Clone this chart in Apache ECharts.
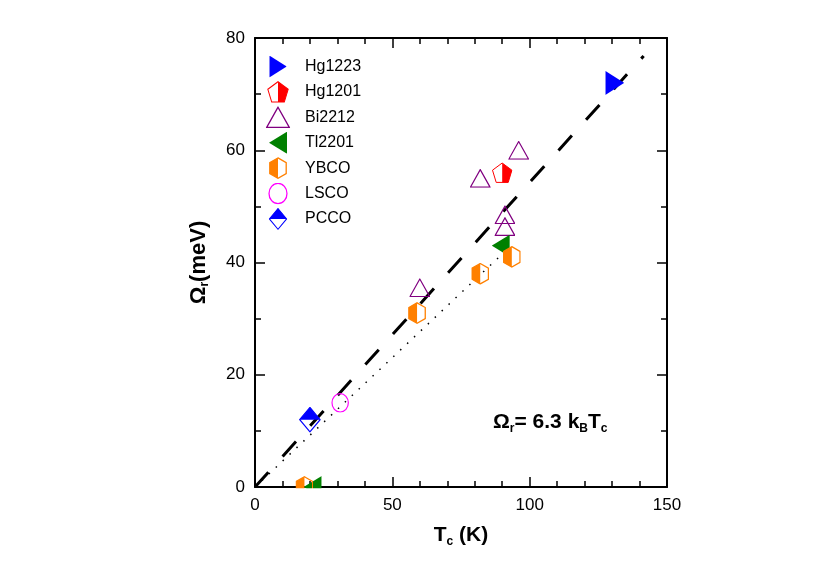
<!DOCTYPE html>
<html>
<head>
<meta charset="utf-8">
<script src="https://cdn.jsdelivr.net/npm/echarts@6/dist/echarts.min.js"></script>
<style>
  html, body { margin: 0; padding: 0; background: #fff; }
  #div_chart { width: 817px; height: 578px; }
</style>
</head>
<body>
<div id="div_chart"></div>
<script>
// data: [Tc (K), Omega_r (meV)]
var hg1223 = [[131, 72]];
var hg1201 = [[90, 56]];
var bi2212 = [[60, 35.5], [82, 55], [91, 46.4], [91, 48.5], [96, 60]];
var tl2201 = [[21, 0], [89.5, 43]];
var ybco = [[18, 0], [59, 31], [82, 38], [93.5, 41]];
var lsco = [[31, 15]];
var pcco = [[20, 12]];
// fit lines
var fitDashed = [[0, 0], [141.5, 76.8]];
var fitDotted = [[0, 0], [90, 41.5]];

var xTicks = [0, 50, 100, 150];
var yTicks = [0, 20, 40, 60, 80];
var legendNames = ['Hg1223', 'Hg1201', 'Bi2212', 'Tl2201', 'YBCO', 'LSCO', 'PCCO'];

var FONT = '"Liberation Sans", Arial, sans-serif';

function svgSymbol(w, h, body) {
    var svg = "<svg xmlns='http://www.w3.org/2000/svg' width='" + w + "' height='" + h +
        "' viewBox='0 0 " + w + " " + h + "'>" + body + "</svg>";
    return 'image://data:image/svg+xml;charset=utf-8,' + encodeURIComponent(svg);
}

// marker shapes (half filled ones need two colours, so svg images)
var symHg1223 = svgSymbol(19, 24, "<path d='M0 0 L19 12 L0 24 Z' fill='#0000ff'/>");
var symHg1201 = svgSymbol(21, 21,
    "<path d='M10.5 0.8 L20.2 8 L16.5 20.2 L10.5 20.2 Z' fill='#ff0000'/>" +
    "<path d='M10.5 0.8 L20.2 8 L16.5 20.2 L4.5 20.2 L0.8 8 Z' fill='none' stroke='#ff0000' stroke-width='1'/>");
var symBi2212 = svgSymbol(21, 19,
    "<path d='M10.5 0.8 L20.3 18.3 L0.7 18.3 Z' fill='none' stroke='#800080' stroke-width='1.2'/>");
var symTl2201 = svgSymbol(18, 22, "<path d='M18 0 L0 11 L18 22 Z' fill='#008000'/>");
var symYbco = svgSymbol(18, 22,
    "<path d='M9 0.8 L0.8 5.5 L0.8 16.5 L9 21.2 Z' fill='#ff8000'/>" +
    "<path d='M9 0.8 L17.2 5.5 L17.2 16.5 L9 21.2 L0.8 16.5 L0.8 5.5 Z' fill='none' stroke='#ff8000' stroke-width='1.3'/>");
var symLsco = svgSymbol(18, 20,
    "<ellipse cx='9' cy='10' rx='8.2' ry='9.2' fill='none' stroke='#ff00ff' stroke-width='1.2'/>");
var symPcco = svgSymbol(22, 26,
    "<path d='M11 0.8 L21.2 13 L0.8 13 Z' fill='#0000ff'/>" +
    "<path d='M11 0.8 L21.2 13 L11 25.2 L0.8 13 Z' fill='none' stroke='#0000ff' stroke-width='1.2'/>");

function scatterSeries(name, data, symbol, size) {
    return {
        name: name,
        type: 'scatter',
        data: data,
        symbol: symbol,
        symbolSize: size,
        itemStyle: { opacity: 1 },
        emphasis: { disabled: true },
        clip: false,
        z: 3
    };
}

// one frame axis; ticks point into the plot on every side
function frameAxis(pos, ticks, minorSplit, extra) {
    var ax = {
        type: 'value',
        position: pos,
        min: ticks[0],
        max: ticks[ticks.length - 1],
        interval: ticks[1] - ticks[0],
        axisLine: { show: true, onZero: false, lineStyle: { color: '#000', width: 2 } },
        axisTick: { show: true, inside: true, length: 10, lineStyle: { color: '#000', width: 1.5 } },
        minorTick: { show: true, splitNumber: minorSplit, length: 6, lineStyle: { color: '#000', width: 1.5 } },
        splitLine: { show: false },
        axisLabel: { show: false }
    };
    return Object.assign(ax, extra || {});
}

var subStyle = { fontSize: 12, fontWeight: 'bold', fontFamily: FONT, padding: [13, 0, 0, 0], color: '#000' };
var nameRich = {
    b: { fontSize: 21, fontWeight: 'bold', fontFamily: FONT, color: '#000' },
    s: subStyle
};

var myChart = echarts.init(document.getElementById('div_chart'));

var option = {
    backgroundColor: '#fff',
    animation: false,
    title: {
        text: '{b|Ω}{s|r}{b|= 6.3 k}{s|B}{b|T}{s|c}',
        left: 488,
        top: 405,
        textStyle: { rich: nameRich }
    },
    legend: {
        data: legendNames,
        orient: 'vertical',
        left: 251,
        top: 50.5,
        itemWidth: 44,
        itemHeight: 22,
        itemGap: 3.4,
        symbolKeepAspect: true,
        selectedMode: false,
        textStyle: { fontSize: 16, fontFamily: FONT, color: '#000' }
    },
    grid: { left: 255, right: 150, top: 38, bottom: 91 },
    xAxis: [
        frameAxis('bottom', xTicks, 5, {
            axisLabel: { show: true, fontSize: 17, fontFamily: FONT, color: '#000', margin: 10 },
            name: '{b|T}{s|c}{b| (K)}',
            nameLocation: 'middle',
            nameGap: 36,
            nameTextStyle: { rich: nameRich }
        }),
        frameAxis('top', xTicks, 5)
    ],
    yAxis: [
        frameAxis('left', yTicks, 2, {
            axisLabel: { show: true, fontSize: 17, fontFamily: FONT, color: '#000', margin: 10 },
            name: '{b|Ω}{s|r}{b|(meV)}',
            nameLocation: 'middle',
            nameGap: 44,
            nameTextStyle: {
                rich: {
                    b: { fontSize: 22, fontWeight: 'bold', fontFamily: FONT, color: '#000' },
                    s: subStyle
                }
            }
        }),
        frameAxis('right', yTicks, 2)
    ],
    series: [
        {
            name: 'fit',
            type: 'line',
            data: fitDashed,
            symbol: 'none',
            silent: true,
            lineStyle: { color: '#000', width: 3, type: [20, 21.2] },
            z: 2
        },
        {
            name: 'fit2',
            type: 'line',
            data: fitDotted,
            symbol: 'none',
            silent: true,
            lineStyle: { color: '#000', width: 1.5, type: [1.5, 8] },
            z: 2
        },
        scatterSeries('Hg1223', hg1223, symHg1223, [19, 24]),
        scatterSeries('Hg1201', hg1201, symHg1201, [21, 21]),
        scatterSeries('Bi2212', bi2212, symBi2212, [21, 19]),
        scatterSeries('Tl2201', tl2201, symTl2201, [18, 22]),
        scatterSeries('YBCO', ybco, symYbco, [18, 22]),
        scatterSeries('LSCO', lsco, symLsco, [18, 20]),
        scatterSeries('PCCO', pcco, symPcco, [22, 26])
    ]
};
myChart.setOption(option);

// markers sitting on the x axis are cut by the frame in the original:
// hide what falls below the axis line with a white strip
var p0 = myChart.convertToPixel({ gridIndex: 0 }, [10, 0]);
var p1 = myChart.convertToPixel({ gridIndex: 0 }, [30, 0]);
myChart.setOption({
    graphic: [{
        type: 'rect',
        shape: { x: p0[0], y: p0[1] + 1.2, width: p1[0] - p0[0], height: 12 },
        style: { fill: '#fff' },
        silent: true,
        z: 10
    }]
});
</script>
</body>
</html>
